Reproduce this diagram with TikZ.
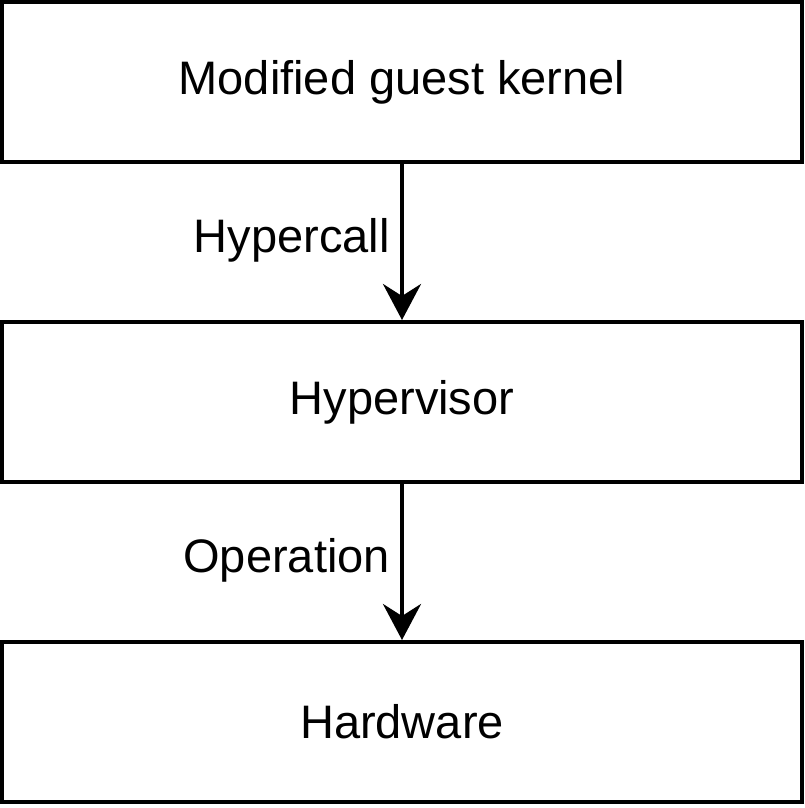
\documentclass[tikz,border=0pt]{standalone}
\usepackage{fontspec}
\setmainfont{Liberation Sans}
\usetikzlibrary{arrows.meta}
\begin{document}
\begin{tikzpicture}[x=1pt,y=-1pt,
  layerbox/.style={draw=black,line width=4pt,minimum width=800pt,minimum height=160pt,inner sep=0pt,outer sep=0pt,font=\fontsize{47}{56}\selectfont,anchor=north west},
  conn/.style={line width=4pt,-{Stealth[length=36pt,width=38pt,inset=12pt]},shorten >=2pt},
  lbl/.style={font=\fontsize{47}{56}\selectfont,anchor=east,inner sep=0pt}]
\useasboundingbox (0,0) rectangle (804,808);
\node[layerbox] (kernel) at (2,2) {Modified guest kernel};
\node[layerbox] (hyper) at (2,322) {Hypervisor};
\node[layerbox] (hw) at (2,642) {Hardware};
\draw[conn] (kernel.south) -- (hyper.north);
\draw[conn] (hyper.south) -- (hw.north);
\node[lbl] (l1) at (390,240) {Hypercall};
\node[lbl] (l2) at (390,560) {Operation};
\end{tikzpicture}
\end{document}
